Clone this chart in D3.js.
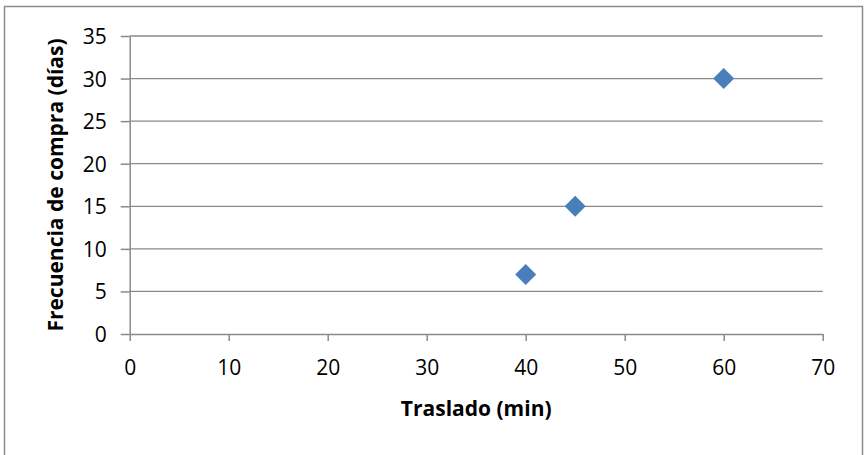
<!DOCTYPE html>
<html>
<head>
<meta charset="utf-8">
<script src="https://cdnjs.cloudflare.com/ajax/libs/d3/7.8.5/d3.min.js"></script>
<style>
  body { margin: 0; background: #fff; }
  .chartWrapper text { font-family: "Open Sans", sans-serif; fill: #000; }
</style>
</head>
<body>
<div class="chartWrapper"></div>
<script>
// datos
var traslado = [40, 45, 60];
var frecuencia = [7, 15, 30];
var xTicks = [0, 10, 20, 30, 40, 50, 60, 70];
var yTicks = [0, 5, 10, 15, 20, 25, 30, 35];
var xTitle = 'Traslado (min)';
var yTitle = 'Frecuencia de compra (días)';

var width = 867,
    height = 455,
    padding = { top: 36, right: 44.3, bottom: 121, left: 129.7 };

var svg = d3.select('.chartWrapper')
  .append('svg')
  .attr('width', width)
  .attr('height', height);

// marco exterior
svg.append('rect')
  .attr('x', 4.5)
  .attr('y', 6.5)
  .attr('width', 858)
  .attr('height', 460)
  .attr('fill', '#fff')
  .attr('stroke', '#8c8c8c')
  .attr('stroke-width', 1.5);

var xScale = d3.scaleLinear()
  .domain([0, 70])
  .range([padding.left, width - padding.right]);
var yScale = d3.scaleLinear()
  .domain([0, 35])
  .range([height - padding.bottom, padding.top]);

// lineas de cuadricula
svg.append('g')
  .selectAll('line')
  .data(yTicks.filter(function (d) { return d > 0; }))
  .enter()
  .append('line')
  .attr('x1', xScale(0))
  .attr('x2', xScale(70))
  .attr('y1', function (d) { return yScale(d); })
  .attr('y2', function (d) { return yScale(d); })
  .attr('stroke', '#8a8a8a')
  .attr('stroke-width', 1.3);

var xAxis = d3.axisBottom(xScale).tickValues(xTicks).tickSizeInner(7).tickSizeOuter(0).tickPadding(19);
var yAxis = d3.axisLeft(yScale).tickValues(yTicks).tickSizeInner(9).tickSizeOuter(0).tickPadding(14);

var gx = svg.append('g')
  .attr('class', 'axis xAxis')
  .attr('transform', 'translate(0,' + yScale(0) + ')')
  .call(xAxis);
var gy = svg.append('g')
  .attr('class', 'axis yAxis')
  .attr('transform', 'translate(' + xScale(0) + ',0)')
  .call(yAxis);

svg.selectAll('.axis path, .axis line')
  .attr('stroke', '#8a8a8a')
  .attr('stroke-width', 1.5);
svg.selectAll('.axis text')
  .attr('font-size', '21px')
  .attr('font-family', '"Open Sans", sans-serif')
  .attr('fill', '#000');
gy.selectAll('text').attr('dy', '0.36em');

// titulos
svg.append('text')
  .attr('x', (xScale(0) + xScale(70)) / 2)
  .attr('y', 415.5)
  .attr('text-anchor', 'middle')
  .attr('font-size', '21px')
  .attr('font-weight', 'bold')
  .text(xTitle);
svg.append('text')
  .attr('transform', 'translate(63,' + (yScale(0) + yScale(35)) / 2 + ') rotate(-90)')
  .attr('text-anchor', 'middle')
  .attr('font-size', '21px')
  .attr('font-weight', 'bold')
  .text(yTitle);

// puntos
svg.append('g')
  .selectAll('path')
  .data(traslado)
  .enter()
  .append('path')
  .attr('d', d3.symbol().type(d3.symbolSquare).size(220))
  .attr('transform', function (d, i) {
    return 'translate(' + xScale(d) + ',' + yScale(frecuencia[i]) + ') rotate(45)';
  })
  .attr('fill', '#4a7ebb');
</script>
</body>
</html>
